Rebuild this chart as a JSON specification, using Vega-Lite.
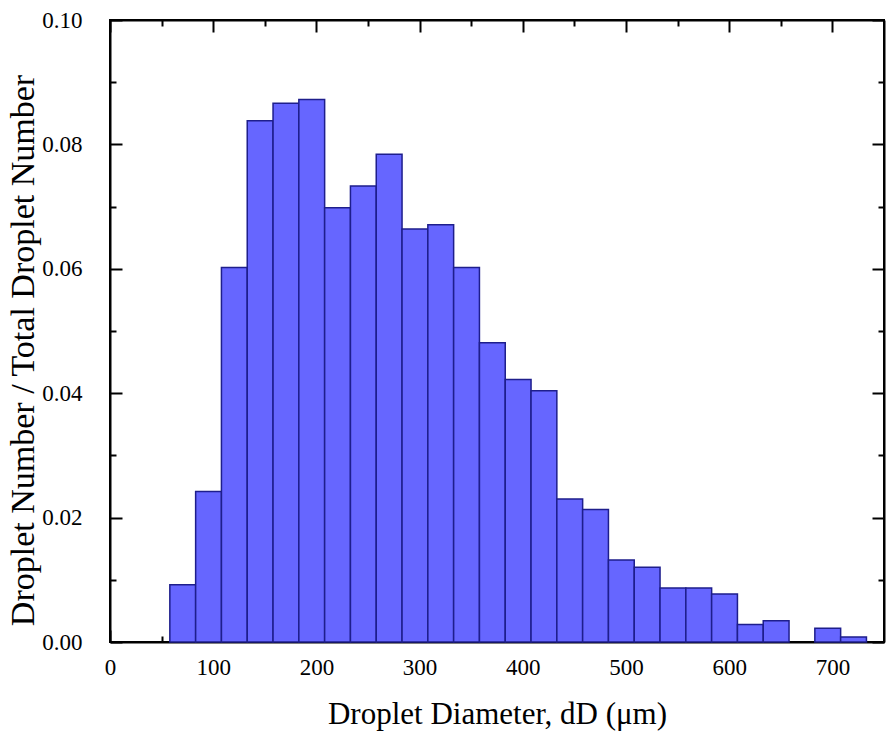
{
  "$schema": "https://vega.github.io/schema/vega-lite/v6.json",
  "width": 774,
  "height": 622,
  "autosize": {"type": "none"},
  "padding": {"left": 110, "top": 20, "right": 12, "bottom": 99},
  "background": "white",
  "config": {
    "view": {"stroke": "black", "strokeWidth": 2},
    "axis": {
      "labelFont": "Liberation Serif",
      "titleFont": "Liberation Serif",
      "labelFontSize": 23,
      "labelFontWeight": "normal",
      "titleFontSize": 31,
      "titleFontWeight": "normal",
      "labelColor": "black",
      "titleColor": "black",
      "domainColor": "black",
      "domainWidth": 2,
      "tickColor": "black",
      "tickWidth": 2,
      "labelFlush": false,
      "zindex": 1,
      "grid": false
    }
  },
  "data": {
    "values": [
      {"start": 57.5, "end": 82.5, "frac": 0.0092},
      {"start": 82.5, "end": 107.5, "frac": 0.0242},
      {"start": 107.5, "end": 132.5, "frac": 0.0602},
      {"start": 132.5, "end": 157.5, "frac": 0.0838},
      {"start": 157.5, "end": 182.5, "frac": 0.0866},
      {"start": 182.5, "end": 207.5, "frac": 0.0872},
      {"start": 207.5, "end": 232.5, "frac": 0.0698},
      {"start": 232.5, "end": 257.5, "frac": 0.0733},
      {"start": 257.5, "end": 282.5, "frac": 0.0784},
      {"start": 282.5, "end": 307.5, "frac": 0.0664},
      {"start": 307.5, "end": 332.5, "frac": 0.0671},
      {"start": 332.5, "end": 357.5, "frac": 0.0602},
      {"start": 357.5, "end": 382.5, "frac": 0.0481},
      {"start": 382.5, "end": 407.5, "frac": 0.0422},
      {"start": 407.5, "end": 432.5, "frac": 0.0404},
      {"start": 432.5, "end": 457.5, "frac": 0.0230},
      {"start": 457.5, "end": 482.5, "frac": 0.0213},
      {"start": 482.5, "end": 507.5, "frac": 0.0132},
      {"start": 507.5, "end": 532.5, "frac": 0.0120},
      {"start": 532.5, "end": 557.5, "frac": 0.0087},
      {"start": 557.5, "end": 582.5, "frac": 0.0087},
      {"start": 582.5, "end": 607.5, "frac": 0.0077},
      {"start": 607.5, "end": 632.5, "frac": 0.0028},
      {"start": 632.5, "end": 657.5, "frac": 0.0034},
      {"start": 682.5, "end": 707.5, "frac": 0.0022},
      {"start": 707.5, "end": 732.5, "frac": 0.0008}
    ]
  },
  "resolve": {"axis": {"x": "independent", "y": "independent"}},
  "layer": [
    {
      "mark": {"type": "bar", "fill": "#6666ff", "stroke": "#1e1e8c", "strokeWidth": 1.5, "binSpacing": 0, "orient": "vertical"},
      "encoding": {
        "x": {
          "field": "start", "type": "quantitative", "bin": "binned",
          "scale": {"domain": [0, 750], "nice": false},
          "axis": {
            "orient": "bottom",
            "title": "Droplet Diameter, dD (μm)",
            "values": [0, 100, 200, 300, 400, 500, 600, 700],
            "format": "d",
            "tickSize": -12,
            "labelPadding": 26,
            "titlePadding": 20
          }
        },
        "x2": {"field": "end"},
        "y": {
          "field": "frac", "type": "quantitative",
          "scale": {"domain": [0, 0.1], "nice": false},
          "axis": {
            "orient": "left",
            "title": "Droplet Number / Total Droplet Number",
            "titleFontSize": 34,
            "titleY": 330,
            "values": [0, 0.02, 0.04, 0.06, 0.08, 0.1],
            "format": ".2f",
            "tickSize": -12,
            "labelPadding": 40,
            "titlePadding": 1
          }
        }
      }
    },
    {
      "mark": {"type": "bar", "opacity": 0, "orient": "vertical"},
      "encoding": {
        "x": {
          "field": "start", "type": "quantitative", "bin": "binned",
          "axis": {"orient": "top", "title": null, "labels": false, "values": [0, 100, 200, 300, 400, 500, 600, 700], "tickSize": -12}
        },
        "x2": {"field": "end"},
        "y": {
          "field": "frac", "type": "quantitative",
          "axis": {"orient": "right", "title": null, "labels": false, "values": [0, 0.02, 0.04, 0.06, 0.08, 0.1], "tickSize": -12}
        }
      }
    },
    {
      "mark": {"type": "bar", "opacity": 0, "orient": "vertical"},
      "encoding": {
        "x": {
          "field": "start", "type": "quantitative", "bin": "binned",
          "axis": {"orient": "bottom", "title": null, "labels": false, "domain": false, "values": [50, 150, 250, 350, 450, 550, 650], "tickSize": -6}
        },
        "x2": {"field": "end"},
        "y": {
          "field": "frac", "type": "quantitative",
          "axis": {"orient": "left", "title": null, "labels": false, "domain": false, "values": [0.01, 0.03, 0.05, 0.07, 0.09], "tickSize": -6}
        }
      }
    },
    {
      "mark": {"type": "bar", "opacity": 0, "orient": "vertical"},
      "encoding": {
        "x": {
          "field": "start", "type": "quantitative", "bin": "binned",
          "axis": {"orient": "top", "title": null, "labels": false, "domain": false, "values": [50, 150, 250, 350, 450, 550, 650], "tickSize": -6}
        },
        "x2": {"field": "end"},
        "y": {
          "field": "frac", "type": "quantitative",
          "axis": {"orient": "right", "title": null, "labels": false, "domain": false, "values": [0.01, 0.03, 0.05, 0.07, 0.09], "tickSize": -6}
        }
      }
    }
  ]
}
